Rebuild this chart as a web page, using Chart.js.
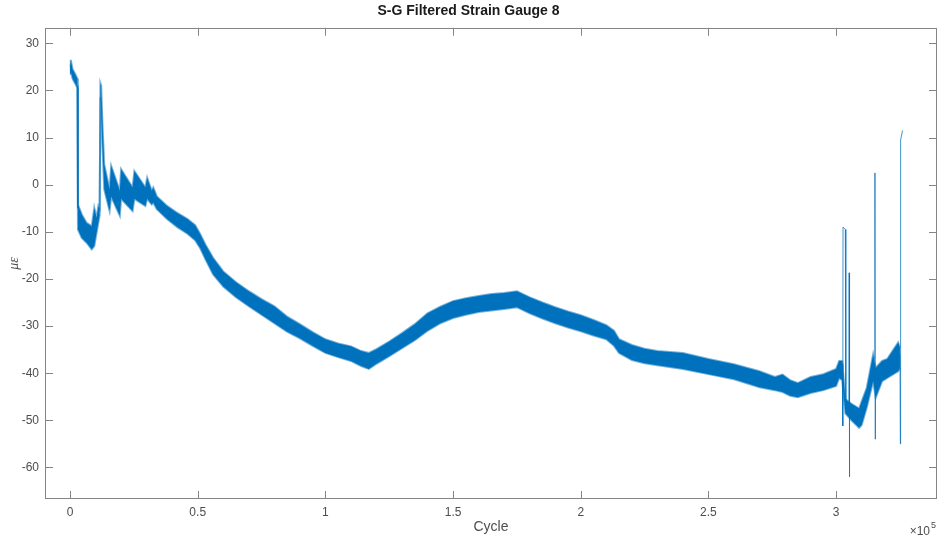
<!DOCTYPE html>
<html>
<head>
<meta charset="utf-8">
<script src="https://cdn.jsdelivr.net/npm/chart.js@4.4.1/dist/chart.umd.min.js"></script>
<style>
  body { margin: 0; background: #fff; }
  #chart { display: block; }
</style>
</head>
<body>
<canvas id="chart" width="938" height="537"></canvas>
<script>
// band envelope (cycle, upper/lower strain in microstrain)
const cycles = [
  0, 300, 1000, 2000, 2900, 3100, 4600, 6500, 8500, 9500, 10400, 11100, 11600,
  11900, 12200, 12700, 13400, 15500, 16100, 19500, 20000, 24500, 25200, 29500,
  30200, 32000, 32600, 34000, 38000, 42000, 46000, 49000, 51000, 53000, 56000,
  60000, 65000, 70000, 75000, 80000, 85000, 90000, 95000, 100000, 105000,
  110000, 114000, 117000, 120000, 125000, 130000, 135000, 140000, 145000,
  150000, 155000, 160000, 165000, 170000, 175000, 180000, 185000, 190000,
  195000, 200000, 205000, 210000, 213000, 215000, 220000, 225000, 230000,
  240000, 250000, 260000, 270000, 276000, 279000, 282000, 285000, 290000,
  295000, 300000, 301200, 302400, 303600, 306000, 309000, 310000, 312000,
  314500, 315500, 318000, 320000, 324300, 325000
];
const upper = [
  25.0, 26.5, 24.5, 23.5, 22.5, -4.2, -6.3, -8.1, -8.8, -4.9, -7.0, -4.5, -5.0,
  21.5, 21.0, 12.8, 4.3, -1.0, 4.0, -1.3, 3.3, -0.6, 2.9, -0.6,
  1.5, -1.3, -0.6, -2.5, -4.5, -6.0, -7.3, -8.6, -10.5, -12.7, -15.5,
  -18.4, -20.7, -22.6, -24.3, -25.8, -28.0, -29.6, -31.3, -32.8, -33.7,
  -34.3, -35.3, -35.7, -34.9, -33.3, -31.5, -29.6, -27.3, -25.9,
  -24.7, -24.1, -23.6, -23.2, -23.0, -22.6, -23.9, -25.0, -26.0,
  -26.9, -27.7, -28.7, -29.8, -31.0, -32.8, -34.0, -34.8, -35.3,
  -35.7, -37.0, -38.1, -39.6, -40.8, -40.3, -41.5, -42.1, -40.8,
  -40.2, -39.1, -37.4, -37.4, -45.5, -46.5, -47.5, -46.0, -43.1,
  -36.0, -38.9, -37.4, -37.0, -33.5, -34.6
];
const lower = [
  23.5, 24.0, 22.5, 21.5, 20.5, -9.5, -11.3, -12.3, -13.7, -13.0, -10.2, -8.0, -6.5,
  18.5, 16.0, 8.0, -1.0, -5.6, -2.5, -6.6, -3.0, -5.6, -3.0, -4.5,
  -3.0, -4.2, -3.8, -5.2, -7.3, -9.0, -10.4, -11.8, -13.5, -15.8, -19.0,
  -21.6, -23.9, -25.8, -27.6, -29.4, -31.2, -32.6, -34.2, -35.7, -36.6,
  -37.4, -38.5, -39.1, -38.0, -36.4, -34.7, -33.0, -31.0, -29.4,
  -28.3, -27.6, -27.0, -26.7, -26.4, -26.0, -27.3, -28.4, -29.4,
  -30.3, -31.1, -32.0, -32.8, -34.2, -35.7, -37.2, -37.9, -38.3,
  -39.1, -40.2, -41.3, -43.0, -43.6, -44.0, -44.8, -45.1, -44.2,
  -43.6, -42.7, -41.0, -41.5, -48.5, -50.0, -51.6, -51.0, -47.3,
  -41.7, -45.2, -41.7, -41.0, -39.6, -38.9
];

// thin transient lines (null = break)
const spikeCycles = [
  2950, 3050, null,
  302400, 302600, 302700, 303600, 303800, null,
  305000, 305100, 305200, 305300, null,
  315100, 315200, 315300, 315400, null,
  325000, 325150, 325250, 326000
];
const spikeStrain = [
  21, -5, null,
  -38, -51.2, -9, -9.5, -46, null,
  -46, -18.7, -62, -47, null,
  -37, 2.5, -54, -40, null,
  -36, -55, 9.5, 11.5
];

const xTicks = [0, 50000, 100000, 150000, 200000, 250000, 300000];
const yTicks = [-60, -50, -40, -30, -20, -10, 0, 10, 20, 30];

const blue = '#0072BD';
const edge = 'rgba(0,114,189,0.55)';
const font = "'Liberation Sans', Arial, Helvetica, sans-serif";

const band = (arr) => cycles.map((c, i) => ({x: c, y: arr[i]}));
const spikes = spikeCycles.map((c, i) => ({x: c === null ? spikeCycles[i - 1] : c, y: spikeStrain[i]}));

// box with inward tick marks and the x10^5 multiplier
const boxTicks = {
  id: 'boxTicks',
  afterDraw(chart) {
    const {ctx, chartArea: a, scales: {x, y}} = chart;
    ctx.save();
    ctx.strokeStyle = '#858585';
    ctx.lineWidth = 1;
    ctx.beginPath();
    x.ticks.forEach(t => {
      const px = Math.round(x.getPixelForValue(t.value)) + 0.5;
      ctx.moveTo(px, a.bottom); ctx.lineTo(px, a.bottom - 8);
      ctx.moveTo(px, a.top); ctx.lineTo(px, a.top + 8);
    });
    y.ticks.forEach(t => {
      const py = Math.round(y.getPixelForValue(t.value)) + 0.5;
      ctx.moveTo(a.left, py); ctx.lineTo(a.left + 8, py);
      ctx.moveTo(a.right, py); ctx.lineTo(a.right - 8, py);
    });
    ctx.stroke();
    ctx.strokeRect(Math.round(a.left) + 0.5, Math.round(a.top) + 0.5,
      Math.round(a.right - a.left) - 1, Math.round(a.bottom - a.top) - 1);
    ctx.fillStyle = '#4d4d4d';
    ctx.textBaseline = 'alphabetic';
    ctx.textAlign = 'right';
    ctx.font = '9px ' + font;
    ctx.fillText('5', 936, 528);
    ctx.font = '12px ' + font;
    ctx.fillText('\u00d710', 930, 535);
    ctx.restore();
  }
};

new Chart(document.getElementById('chart'), {
  type: 'line',
  data: {
    datasets: [
      {data: band(upper), borderColor: edge, borderWidth: 2, pointRadius: 0, fill: false},
      {data: band(lower), borderColor: edge, borderWidth: 2, pointRadius: 0, fill: '-1', backgroundColor: blue},
      {data: spikes, borderColor: 'rgba(0,114,189,0.75)', borderWidth: 1, pointRadius: 0, fill: false, spanGaps: false}
    ]
  },
  options: {
    responsive: false,
    animation: false,
    devicePixelRatio: 1,
    layout: {padding: {left: 0, right: 1, top: 0, bottom: 0}},
    plugins: {
      legend: {display: false},
      tooltip: {enabled: false},
      title: {
        display: true,
        text: 'S-G Filtered Strain Gauge 8',
        color: '#1a1a1a',
        font: {family: font, size: 14, weight: 'bold'},
        padding: {top: 3, bottom: 8}
      }
    },
    scales: {
      x: {
        type: 'linear',
        min: -9800,
        max: 339500,
        afterBuildTicks: s => { s.ticks = xTicks.map(v => ({value: v})); },
        afterFit: s => { s.height = 38; },
        grid: {drawOnChartArea: false, drawTicks: false},
        border: {display: false},
        ticks: {color: '#4d4d4d', font: {family: font, size: 12}, padding: 6, maxRotation: 0,
          callback: v => String(v / 1e5)},
        title: {display: true, text: 'Cycle', color: '#4d4d4d',
          font: {family: font, size: 14}, padding: {top: 0, bottom: 1}}
      },
      y: {
        min: -66.7,
        max: 33.3,
        afterBuildTicks: s => { s.ticks = yTicks.map(v => ({value: v})); },
        afterFit: s => { s.width = 45; },
        grid: {drawOnChartArea: false, drawTicks: false},
        border: {display: false},
        ticks: {color: '#4d4d4d', font: {family: font, size: 12}, padding: 6},
        title: {display: true, text: 'με', color: '#4d4d4d',
          font: {family: "'Liberation Serif', 'DejaVu Serif', serif", size: 14, style: 'italic'},
          padding: {top: 6, bottom: 0}}
      }
    }
  },
  plugins: [boxTicks]
});
</script>
</body>
</html>
